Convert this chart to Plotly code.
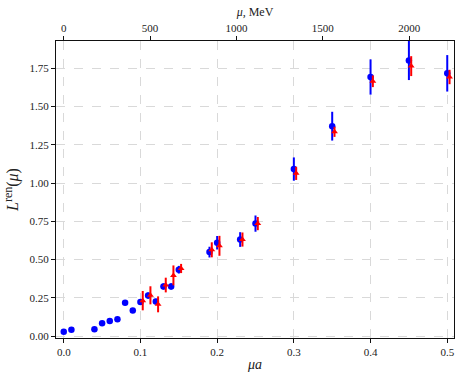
import plotly.graph_objects as go

# ---- data ----
mu_a_blue = [0.00, 0.01, 0.04, 0.05, 0.06, 0.07, 0.08, 0.09, 0.10, 0.11, 0.12, 0.13,
             0.14, 0.15, 0.19, 0.20, 0.23, 0.25, 0.30, 0.35, 0.40, 0.45, 0.50]
L_blue = [0.029, 0.042, 0.046, 0.085, 0.100, 0.110, 0.219, 0.167, 0.224, 0.265, 0.226, 0.325,
          0.325, 0.434, 0.549, 0.610, 0.631, 0.735, 1.091, 1.371, 1.692, 1.800, 1.716]
err_blue = [0.004, 0.004, 0.005, 0.006, 0.007, 0.008, 0.017, 0.015, 0.018, 0.020, 0.018, 0.020,
            0.020, 0.025, 0.035, 0.044, 0.048, 0.053, 0.076, 0.094, 0.115, 0.128, 0.119]

mu_a_red = [0.10, 0.11, 0.12, 0.13, 0.14, 0.15, 0.19, 0.20, 0.23, 0.25, 0.30, 0.35, 0.40, 0.45, 0.50]
L_red = [0.232, 0.267, 0.208, 0.334, 0.397, 0.442, 0.564, 0.590, 0.631, 0.735, 1.063, 1.334,
         1.664, 1.763, 1.692]
err_red = [0.063, 0.059, 0.052, 0.048, 0.065, 0.030, 0.049, 0.065, 0.046, 0.043, 0.043, 0.033,
           0.038, 0.065, 0.047]

bottom_ticks = [0.0, 0.1, 0.2, 0.3, 0.4, 0.5]
top_ticks_mev = [0, 500, 1000, 1500, 2000]
y_ticks = [0.00, 0.25, 0.50, 0.75, 1.00, 1.25, 1.50, 1.75]

A_INV_MEV = 4440.0   # inverse lattice spacing used for the top axis
DODGE = 0.003        # horizontal offset of the red series

X_RANGE = [-0.0101, 0.5088]
Y_RANGE = [-0.0117, 1.927]

FONT = "Liberation Serif"

fig = go.Figure()

fig.add_trace(go.Scatter(
    x=mu_a_blue, y=L_blue, mode="markers",
    marker=dict(symbol="circle", size=6.5, color="#0000ff", line=dict(width=0)),
    error_y=dict(type="data", array=err_blue, visible=True, color="#0000ff",
                 thickness=2, width=0),
    showlegend=False,
))

fig.add_trace(go.Scatter(
    x=[v + DODGE for v in mu_a_red], y=L_red, mode="markers",
    marker=dict(symbol="triangle-up", size=6, color="#ff0000", line=dict(width=0)),
    error_y=dict(type="data", array=err_red, visible=True, color="#ff0000",
                 thickness=2, width=0),
    showlegend=False,
))

# invisible trace to anchor the top (MeV) axis
fig.add_trace(go.Scatter(
    x=[X_RANGE[0] * A_INV_MEV, X_RANGE[1] * A_INV_MEV], y=[0, 0],
    xaxis="x2", mode="markers", marker=dict(opacity=0), hoverinfo="skip",
    showlegend=False,
))

grid_col = "#d9d9d9"
fig.update_layout(
    width=456, height=375,
    margin=dict(l=56, r=2, t=41, b=37, autoexpand=False),
    paper_bgcolor="white", plot_bgcolor="white",
    font=dict(family=FONT, size=11, color="#222"),
    xaxis=dict(
        range=X_RANGE, tickvals=bottom_ticks, tickformat=".1f", automargin=False,
        showgrid=True, gridcolor=grid_col, griddash="dash", gridwidth=1,
        zeroline=False, showline=True, linecolor="#111", linewidth=1.3, mirror=True,
        ticks="outside", ticklen=4, tickwidth=1, tickcolor="#111",
        title=dict(text="<i>μa</i>", font=dict(family=FONT, size=14), standoff=1),
    ),
    xaxis2=dict(
        range=[X_RANGE[0] * A_INV_MEV, X_RANGE[1] * A_INV_MEV], automargin=False,
        tickvals=top_ticks_mev, overlaying="x", side="top", anchor="y",
        showgrid=False, zeroline=False, showline=False,
        ticks="outside", ticklen=4, tickwidth=1, tickcolor="#111",
        title=dict(text="<i>μ</i>, MeV", font=dict(family=FONT, size=12), standoff=2),
    ),
    yaxis=dict(
        range=Y_RANGE, tickvals=y_ticks, tickformat=".2f", automargin=False,
        showgrid=True, gridcolor=grid_col, griddash="dash", gridwidth=1,
        zeroline=False, showline=True, linecolor="#111", linewidth=1.3, mirror=True,
        ticks="outside", ticklen=4, tickwidth=1, tickcolor="#111",
        title=dict(text="<i>L</i><sup><span style='font-size:12px'>ren</span></sup>(<i>μ</i>)",
                   font=dict(family=FONT, size=16), standoff=6),
    ),
)

fig.write_html(
    "out.html",
    config={"displayModeBar": False},
    post_script="document.body.style.margin='0';document.body.style.overflow='hidden';",
)
